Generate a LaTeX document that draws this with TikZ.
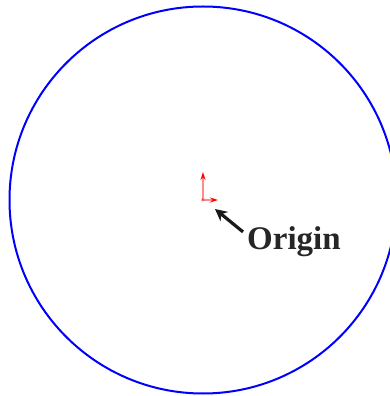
\documentclass[tikz,border=0pt]{standalone}
\usepackage{fontspec}
\setmainfont{Liberation Serif}
\usetikzlibrary{arrows.meta}

\begin{document}
\begin{tikzpicture}[x=1pt, y=1pt,
    sketch/.style={draw=blue, line width=2pt},
    axisarrow/.style={red!45, line width=1.2pt, -{Stealth[red, length=8pt, width=5pt]}},
    pointer/.style={line width=3.2pt, -{Stealth[length=12pt, width=12pt]}, color=black!90}]

    % PAGE (clipped, the circle runs off the right edge)
    \clip (0,0) rectangle (390,396);
    \useasboundingbox (0,0) rectangle (390,396);

    % THE SKETCHED CIRCLE
    \draw[sketch] (203,196) circle (193.5);

    % ORIGIN MARKER
    \coordinate (orig) at (203,196);
    \coordinate (tip) at (215,187);
    \draw[axisarrow] (orig) -- ++(0,28);
    \draw[axisarrow] (orig) -- ++(15,0);
    \node[red, inner sep=0pt, font=\small] (star) at (orig) {$\ast$};

    % LABEL AND POINTER
    \node[anchor=base west, inner sep=0pt, text=black!85,
          font=\bfseries\fontsize{33}{33}\selectfont] (lbl) at (247,146) {Origin};
    \draw[pointer] (lbl.north west) ++(-4,-5) coordinate (tail) -- (tip);

\end{tikzpicture}
\end{document}
